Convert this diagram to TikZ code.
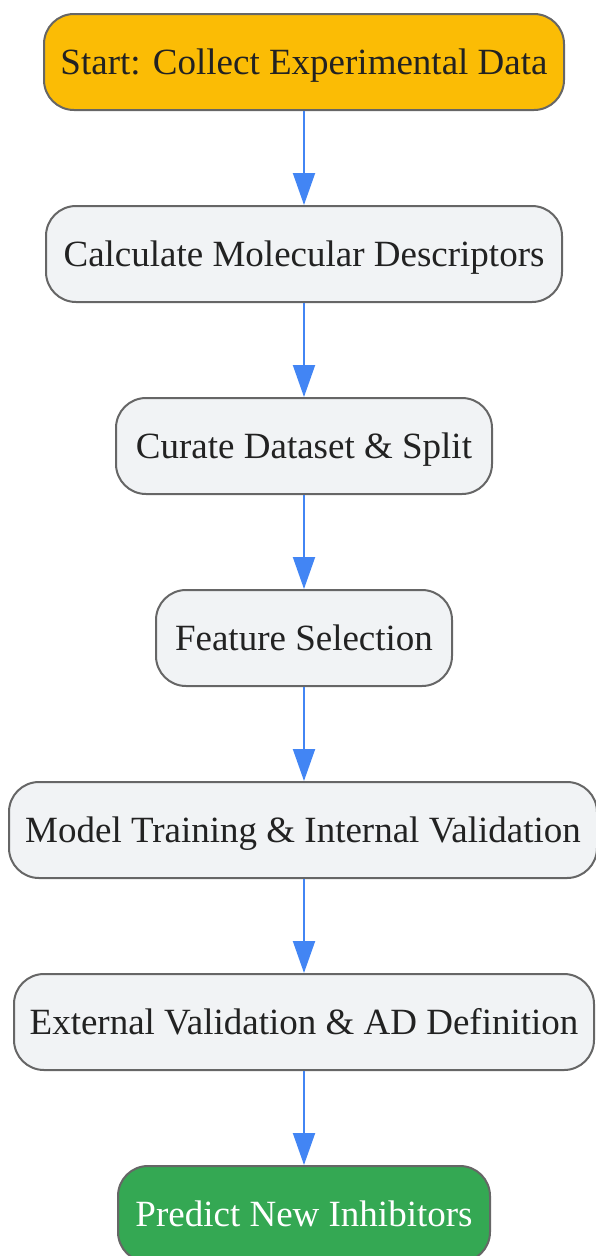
\documentclass[tikz,border=0pt]{standalone}
\usepackage{fontspec}
\setmainfont{Liberation Serif}
\usetikzlibrary{arrows.meta}
\definecolor{boxgray}{HTML}{F1F3F5}
\definecolor{boxline}{HTML}{666666}
\definecolor{startc}{HTML}{FBBC05}
\definecolor{endc}{HTML}{34A853}
\definecolor{arrowc}{HTML}{4285F4}
\definecolor{txt}{HTML}{222222}
\begin{document}
\begin{tikzpicture}[x=1pt,y=-1pt,
  stepbox/.style={draw=boxline, line width=2pt, fill=boxgray, rounded corners=30pt,
    minimum height=96pt, inner sep=0pt, text=txt, text height=25.5pt, text depth=0pt,
    font=\fontsize{37}{44}\selectfont},
  flow/.style={draw=arrowc, line width=2pt, -{Triangle[length=32pt,width=22pt]}, shorten >=0pt}]
\useasboundingbox (0,0) rectangle (596,1256);
\node[stepbox, fill=startc, minimum width=520pt] (n1) at (304,62) {Start: Collect Experimental Data};
\node[stepbox, minimum width=516pt] (n2) at (304,254) {Calculate Molecular Descriptors};
\node[stepbox, minimum width=376pt] (n3) at (304,446) {Curate Dataset \& Split};
\node[stepbox, minimum width=296pt] (n4) at (304,638) {Feature Selection};
\node[stepbox, minimum width=588pt] (n5) at (303,830) {Model Training \& Internal Validation};
\node[stepbox, minimum width=580pt] (n6) at (304,1022) {External Validation \& AD Definition};
\node[stepbox, fill=endc, text=white, minimum width=372pt] (n7) at (304,1214) {Predict New Inhibitors};
\draw[flow] (n1.south) -- (n2.north);
\draw[flow] (n2.south) -- (n3.north);
\draw[flow] (n3.south) -- (n4.north);
\draw[flow] (n4.south) -- (n5.north -| n4.south);
\draw[flow] (n5.south -| n4.south) -- (n6.north);
\draw[flow] (n6.south) -- (n7.north);
\end{tikzpicture}
\end{document}
